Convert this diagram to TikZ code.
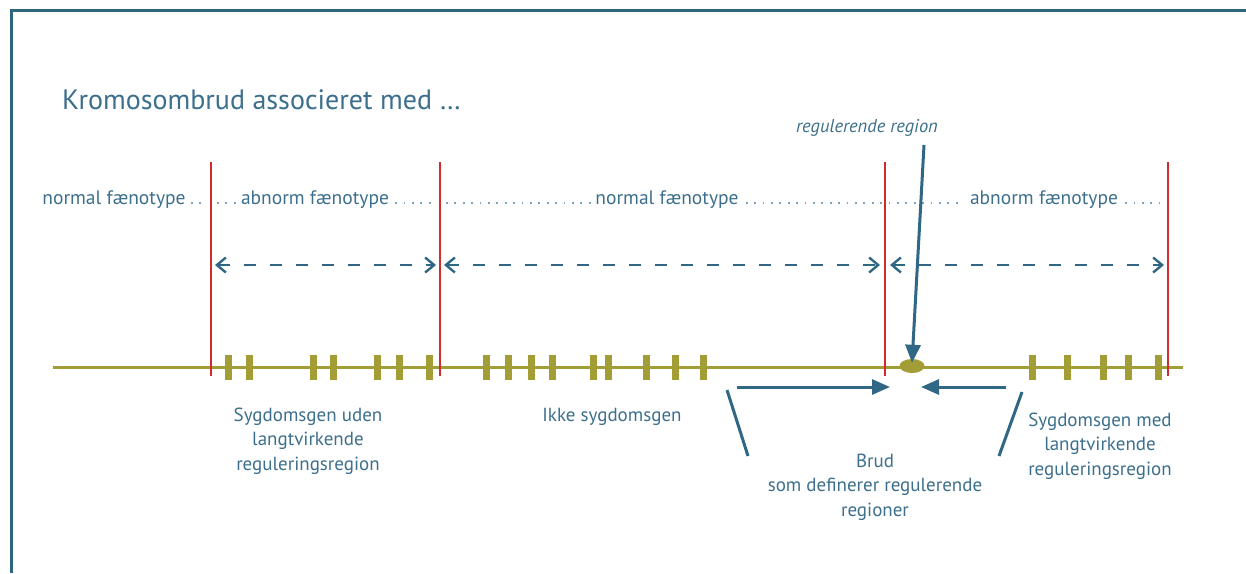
\documentclass[tikz,border=0pt]{standalone}
\usepackage{fontspec}
\setmainfont{PT Sans}
\usetikzlibrary{arrows.meta,shapes.geometric}
\definecolor{frameblue}{HTML}{2E6680}
\definecolor{txtblue}{HTML}{3C6F8C}
\definecolor{dotblue}{HTML}{7FA3BA}
\definecolor{redline}{HTML}{D22B2B}
\definecolor{olive}{HTML}{A39D36}
\definecolor{arrblue}{HTML}{2F6784}
\tikzset{
  lbl/.style={text=txtblue, font=\fontsize{19.5}{22}\selectfont, inner sep=0pt},
  pheno/.style={lbl, anchor=center},
  leader/.style={dotblue, line width=2.4pt, dash pattern=on 1.8pt off 6.6pt},
  bound/.style={redline, line width=2.4pt},
  chrom/.style={olive, line width=3pt},
  gene/.style={fill=olive, draw=none, minimum width=7pt, minimum height=25pt, inner sep=0pt},
  span/.style={arrblue, line width=2.6pt, dash pattern=on 12pt off 14pt,
     {Straight Barb[length=9pt,width=15pt,line width=2.4pt]}-{Straight Barb[length=9pt,width=15pt,line width=2.4pt]}},
  solidarr/.style={arrblue, line width=3pt, -{Triangle[length=18pt,width=15pt]}},
  tick/.style={arrblue, line width=3pt},
  multi/.style={lbl, align=center, font=\fontsize{19}{24.5}\selectfont}
}
\begin{document}
\begin{tikzpicture}[x=1pt,y=-1pt]
\useasboundingbox (0,0) rectangle (1246,573);
% frame
\draw[frameblue, line width=3pt] (11,573) -- (11,10) -- (1246,10);
% title
\node[lbl, anchor=west, font=\fontsize{28}{32}\selectfont] (title) at (62,100) {Kromosombrud associeret med …};
% phenotype labels
\node[pheno] (n1) at (114,200) {normal fænotype};
\node[pheno] (a1) at (315,200) {abnorm fænotype};
\node[pheno] (n2) at (667,200) {normal fænotype};
\node[pheno] (a2) at (1044,200) {abnorm fænotype};
\coordinate (d1e) at (206,203);
\coordinate (d2s) at (217,203);
\coordinate (d3e) at (437,203);
\coordinate (d4s) at (446,203);
\coordinate (d5e) at (962,203);
\coordinate (d6e) at (1160,203);
\draw[leader] ([xshift=5pt]n1.east |- d1e) -- (d1e);
\draw[leader] (d2s) -- ([xshift=-2pt]a1.west |- d2s);
\draw[leader] ([xshift=6pt]a1.east |- d3e) -- (d3e);
\draw[leader] (d4s) -- ([xshift=-4pt]n2.west |- d4s);
\draw[leader] ([xshift=7pt]n2.east |- d5e) -- (d5e);
\draw[leader] ([xshift=7pt]a2.east |- d6e) -- (d6e);
% chromosome
\coordinate (cL) at (53,367);
\coordinate (cR) at (1183,367);
\draw[chrom] (cL) -- (cR);
\foreach \x [count=\i] in {228,249,313,333,377,399,429,486,508,531,552,593,608,646,675,703,1032,1067,1103,1128,1158}
  \node[gene] (g\i) at (\x,367) {};
\node[ellipse, fill=olive, minimum width=25pt, minimum height=14pt, inner sep=0pt] (brk) at (912,366) {};
% red boundaries
\foreach \x/\n in {211/r1,440/r2,885/r3,1168/r4}{
  \coordinate (\n t) at (\x,162);
  \coordinate (\n b) at (\x,376);
  \draw[bound] (\n t) -- (\n b);
}
% dashed span arrows
\coordinate (s1a) at (215,265); \coordinate (s1b) at (436,265);
\coordinate (s2a) at (444,265); \coordinate (s2b) at (880,265);
\coordinate (s3a) at (890,265); \coordinate (s3b) at (1164,265);
\draw[span] (s1a) -- (s1b);
\draw[span] (s2a) -- (s2b);
\draw[span] (s3a) -- (s3b);
% regulerende region
\node[lbl, font=\fontsize{18.5}{20}\selectfont\itshape] (reg) at (867,128) {regulerende region};
\coordinate (regs) at (924,145);
\draw[solidarr] (regs) -- ([yshift=-4pt]brk.north);
% break arrows
\coordinate (la) at (737,387);
\coordinate (ra) at (1006,387);
\draw[solidarr] (la) -- (890,387);
\draw[solidarr] (ra) -- (921,387);
% bracket ticks
\coordinate (lt1) at (727,390); \coordinate (lt2) at (748,456);
\coordinate (rt1) at (1022,392); \coordinate (rt2) at (999,456);
\draw[tick] (lt1) -- (lt2);
\draw[tick] (rt1) -- (rt2);
% lower labels
\node[multi] (sg1) at (308,441) {Sygdomsgen uden\\langtvirkende\\reguleringsregion};
\node[multi] (ik) at (612,417) {Ikke sygdomsgen};
\node[multi] (brud) at (875,487) {Brud\\som definerer regulerende\\regioner};
\node[multi] (sg2) at (1100,446) {Sygdomsgen med\\langtvirkende\\reguleringsregion};
\end{tikzpicture}
\end{document}
